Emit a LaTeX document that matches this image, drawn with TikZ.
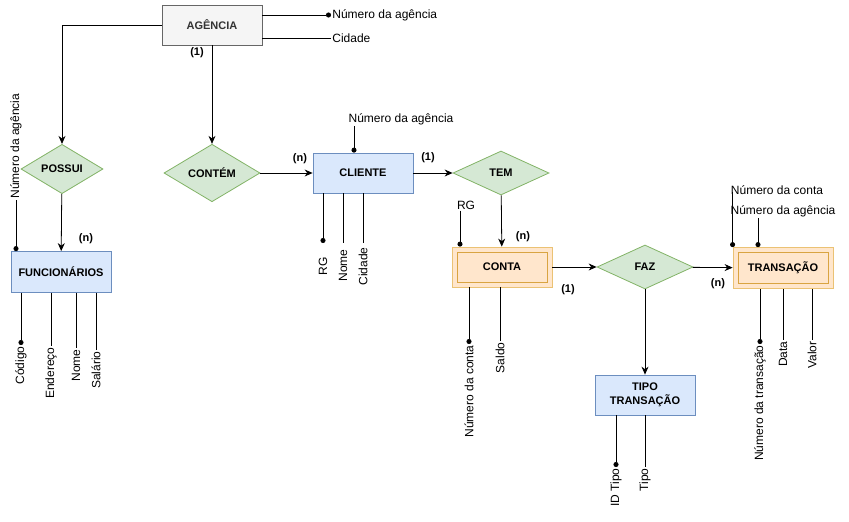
\documentclass[tikz,border=0pt]{standalone}
\usepackage{fontspec}
\setmainfont{Liberation Sans}
\usetikzlibrary{shapes.geometric, arrows.meta, positioning}

\definecolor{entfill}{HTML}{DAE8FC}
\definecolor{entline}{HTML}{6C8EBF}
\definecolor{relfill}{HTML}{D5E8D4}
\definecolor{relline}{HTML}{82B366}
\definecolor{weakfill}{HTML}{FFE6CC}
\definecolor{weakline}{HTML}{EBC274}
\definecolor{weakinner}{HTML}{D9A441}
\definecolor{agfill}{HTML}{F5F5F5}
\definecolor{agline}{HTML}{666666}

\begin{document}
\begin{tikzpicture}[
    x=1pt, y=-1pt, line width=0.8pt,
    entity/.style = {rectangle, draw=entline, fill=entfill, minimum width=100pt, minimum height=40pt, align=center, font = \fontsize{11}{14}\selectfont\bfseries},
    weak/.style = {rectangle, draw=weakline, fill=weakfill, minimum width=100pt, minimum height=40pt, font = \fontsize{11}{14}\selectfont\bfseries,
        path picture={\draw[weakinner] ([xshift=5pt,yshift=-5pt]path picture bounding box.north west) rectangle ([xshift=-5pt,yshift=5pt]path picture bounding box.south east);}},
    relation/.style = {diamond, draw=relline, fill=relfill, minimum width=96pt, minimum height=44pt, inner sep=0pt, font = \fontsize{11}{14}\selectfont\bfseries},
    attr/.style = {inner sep=1pt, font = \fontsize{12}{14}\selectfont},
    vattr/.style = {attr, rotate=90, anchor=east},
    card/.style = {inner sep=0pt, font = \fontsize{11}{13}\selectfont\bfseries},
    keyend/.style = {-{Circle[length=5pt]}},
    >={Stealth[length=8pt, width=7pt]}]

    \useasboundingbox (0,0) rectangle (849,522);

    % entidades e relacionamentos
    \node[entity, fill=agfill, draw=agline, text=black!80] (ag) at (212,25) {AGÊNCIA};
    \node[relation, minimum width=82pt, minimum height=42pt] (possui) at (62,169) {POSSUI};
    \node[entity, minimum height=41pt] (func) at (61,272) {FUNCIONÁRIOS};
    \node[relation] (contem) at (212,173) {CONTÉM};
    \node[entity] (cli) at (363,173) {CLIENTE};
    \node[relation] (tem) at (501,173) {TEM};
    \node[weak] (conta) at (502,267) {CONTA};
    \node[relation] (faz) at (645,267) {FAZ};
    \node[weak, minimum height=41pt] (trans) at (783,268) {TRANSAÇÃO};
    \node[entity] (tipo) at (645,395) {TIPO\\TRANSAÇÃO};

    % atributos
    \node[attr, anchor=west] (agNum) at (331,15) {Número da agência};
    \node[attr, anchor=west] (agCid) at (331,38) {Cidade};
    \node[attr, rotate=90, anchor=west] (funcAg) at (16,200) {Número da agência};
    \node[vattr] (funcCod) at (21,345) {Código};
    \node[vattr] (funcEnd) at (51,346) {Endereço};
    \node[vattr] (funcNome) at (76,348) {Nome};
    \node[vattr] (funcSal) at (96,350) {Salário};
    \node[attr] (cliAg) at (401,119) {Número da agência};
    \node[vattr, minimum width=46pt] (cliRG) at (323,243) {RG};
    \node[vattr, minimum width=44pt] (cliNome) at (343,243) {Nome};
    \node[vattr, minimum width=46pt] (cliCid) at (363,243) {Cidade};
    \node[attr] (contaRG) at (466,205) {RG};
    \node[vattr] (contaNum) at (469,344) {Número da conta};
    \node[vattr] (contaSaldo) at (500,341) {Saldo};
    \node[vattr] (tipoID) at (616,467) {ID Tipo};
    \node[vattr] (tipoNome) at (645,467) {Tipo};
    \node[attr] (trConta) at (777,190) {Número da conta};
    \node[attr] (trAg) at (783,211) {Número da agência};
    \node[vattr] (trNum) at (760,344) {Número da transação};
    \node[vattr] (trData) at (783,340) {Data};
    \node[vattr] (trValor) at (812,340) {Valor};

    \coordinate (cliAgPe) at ([xshift=-47pt]cliAg.south);
    \coordinate (contaRGPe) at ([xshift=-6pt]contaRG.south);
    \coordinate (trContaPe) at ([xshift=3pt,yshift=-2pt]trConta.west);
    \coordinate (trAgPe) at ([xshift=-25pt]trAg.south);

    % cardinalidades
    \node[card] (c1) at (197,53) {(1)};
    \node[card] (c2) at (86,239) {(n)};
    \node[card] (c3) at (300,159) {(n)};
    \node[card] (c4) at (428,158) {(1)};
    \node[card] (c5) at (523,237) {(n)};
    \node[card] (c6) at (568,290) {(1)};
    \node[card] (c7) at (718,284) {(n)};

    % ligacoes
    \draw[->] (ag.west) -| (possui.north);
    \draw[->] (ag) -- (contem);
    \draw[->] (possui) -- (func);
    \draw[->] (contem) -- (cli);
    \draw[->] (cli) -- (tem);
    \draw[->] (tem) -- (conta);
    \draw[->] (conta) -- (faz);
    \draw[->] (faz) -- (trans);
    \draw[->] (faz) -- (tipo);

    \draw[keyend] (ag.east |- agNum.west) -- (agNum.west);
    \draw (ag.east |- agCid.west) -- (agCid.west);
    \draw[keyend] (funcAg.west) -- (func.north -| funcAg.west);
    \draw[keyend] (func.south -| funcCod.east) -- (funcCod.east);
    \draw (func.south -| funcEnd.east) -- (funcEnd.east);
    \draw (func.south -| funcNome.east) -- (funcNome.east);
    \draw (func.south -| funcSal.east) -- (funcSal.east);
    \draw[keyend] (cliAgPe) -- (cli.north -| cliAgPe);
    \draw[keyend] (cli.south -| cliRG.east) -- (cliRG.east);
    \draw (cli.south -| cliNome.east) -- (cliNome.east);
    \draw (cli.south -| cliCid.east) -- (cliCid.east);
    \draw[keyend] (contaRGPe) -- (conta.north -| contaRGPe);
    \draw[keyend] (conta.south -| contaNum.east) -- (contaNum.east);
    \draw (conta.south -| contaSaldo.east) -- (contaSaldo.east);
    \draw[keyend] (tipo.south -| tipoID.east) -- (tipoID.east);
    \draw (tipo.south -| tipoNome.east) -- (tipoNome.east);
    \draw[keyend] (trContaPe) -- (trans.north -| trContaPe);
    \draw[keyend] (trAgPe) -- (trans.north -| trAgPe);
    \draw[keyend] (trans.south -| trNum.east) -- (trNum.east);
    \draw (trans.south -| trData.east) -- (trData.east);
    \draw (trans.south -| trValor.east) -- (trValor.east);
\end{tikzpicture}
\end{document}
